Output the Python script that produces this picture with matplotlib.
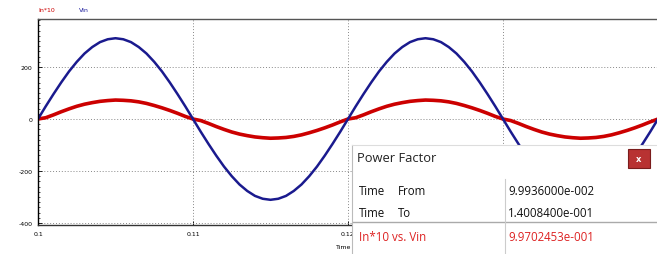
import numpy as np
import matplotlib
matplotlib.use("Agg")
import matplotlib.pyplot as plt
from matplotlib.patches import Rectangle
from matplotlib.ticker import MultipleLocator

plt.rcParams["axes.unicode_minus"] = False

# samples every 0.5 ms
time = np.linspace(0.1, 0.14, 81)
vin = [0, 49, 96, 141, 183, 220, 252, 277, 296, 307, 311, 307, 296, 277, 252, 220, 183, 141, 96, 49,
       0, -49, -96, -141, -183, -220, -252, -277, -296, -307, -311, -307, -296, -277, -252, -220, -183, -141, -96, -49,
       0, 49, 96, 141, 183, 220, 252, 277, 296, 307, 311, 307, 296, 277, 252, 220, 183, 141, 96, 49,
       0, -49, -96, -141, -183, -220, -252, -277, -296, -307, -311, -307, -296, -277, -252, -220, -183, -141, -96, -49, 0]
in10 = [0, 5, 16, 28, 39, 49, 57, 63, 68, 71, 73, 72, 70, 66, 60, 52, 43, 33, 22, 10,
        0, -6, -17, -29, -40, -50, -58, -64, -69, -72, -74, -73, -71, -67, -61, -53, -44, -34, -23, -11,
        0, 5, 16, 28, 39, 49, 57, 63, 68, 71, 73, 72, 70, 66, 60, 52, 43, 33, 22, 10,
        0, -6, -17, -29, -40, -50, -58, -64, -69, -72, -74, -73, -71, -67, -61, -53, -44, -34, -23, -11, 0]

xticks = [0.1, 0.11, 0.12, 0.13, 0.14]
xticklabels = ["0.1", "0.11", "0.12", "", ""]   # last two sit under the dialog
yticks = [-400, -200, 0, 200]

pf_rows = [("Time", "From", "9.9936000e-002"),
           ("Time", "To", "1.4008400e-001")]
pf_result = ("In*10 vs. Vin", "9.9702453e-001")

W, H = 657, 255
fig = plt.figure(figsize=(W / 100, H / 100), dpi=100)
fig.patch.set_facecolor("white")

def fx(px):
    return px / W

def fy(py):
    return 1 - py / H

ax = fig.add_axes([fx(38), fy(226), fx(620), 206 / H])
ax.plot(time, in10, color="#cc0000", lw=2.6, solid_capstyle="round")
ax.plot(time, vin, color="#1a1a8e", lw=1.8)
ax.set_xlim(0.1, 0.14)
ax.set_ylim(-408, 385)
ax.set_xticks(xticks)
ax.set_xticklabels(xticklabels)
ax.set_yticks(yticks)
ax.yaxis.set_minor_locator(MultipleLocator(20))
ax.tick_params(axis="both", which="major", labelsize=4.5, direction="in", length=3, width=0.6, pad=4)
ax.tick_params(axis="y", which="minor", direction="in", length=1.5, width=0.5)
ax.grid(True, color="#888888", ls=(0, (1, 2)), lw=0.7)
ax.spines["right"].set_visible(False)
ax.spines["top"].set_color("#555555")
ax.spines["top"].set_linewidth(1.0)
ax.spines["left"].set_linewidth(1.0)
ax.spines["bottom"].set_linewidth(1.0)
ax.spines["bottom"].set_color("#333333")
ax.set_xlabel("Time", fontsize=4.5, labelpad=1)
ax.xaxis.set_label_coords(fx(344 - 38) / (620 / W), -0.09)

fig.text(fx(38), fy(10), "In*10", color="#cc0000", fontsize=4.5, va="center")
fig.text(fx(79), fy(10), "Vin", color="#1c1c9c", fontsize=4.5, va="center")

# power factor dialog
dlg = fig.add_axes([fx(352), 0, fx(305), fy(146)])
dlg.set_xlim(0, 305)
dlg.set_ylim(109, 0)
dlg.set_facecolor("white")
for s in dlg.spines.values():
    s.set_visible(False)
dlg.spines["left"].set_visible(True)
dlg.spines["left"].set_color("#bbbbbb")
dlg.spines["top"].set_visible(True)
dlg.spines["top"].set_color("#dddddd")
dlg.set_xticks([])
dlg.set_yticks([])

fam = ["Open Sans", "DejaVu Sans"]
dlg.text(5, 13, "Power Factor", fontsize=9.3, va="center", family=fam, color="#222222")
dlg.add_patch(Rectangle((276, 4), 22, 19, facecolor="#b83232", edgecolor="#7a1c1c", lw=0.8))
dlg.text(287, 13.5, "x", color="white", fontsize=6, ha="center", va="center", fontweight="bold")

row_y = [46, 68]
for (a, b, v), yy in zip(pf_rows, row_y):
    dlg.text(7, yy, a, fontsize=8.3, va="center", family=fam, color="#111111")
    dlg.text(46, yy, b, fontsize=8.3, va="center", family=fam, color="#111111")
    dlg.text(156, yy, v, fontsize=8.3, va="center", family=fam, color="#111111")
dlg.plot([0, 305], [77, 77], color="#aaaaaa", lw=1.0)
dlg.plot([153, 153], [34, 109], color="#cccccc", lw=0.8)
dlg.text(7, 92, pf_result[0], fontsize=8.3, va="center", family=fam, color="#dd2222")
dlg.text(156, 92, pf_result[1], fontsize=8.3, va="center", family=fam, color="#dd2222")

fig.savefig("out.png", dpi=100)
